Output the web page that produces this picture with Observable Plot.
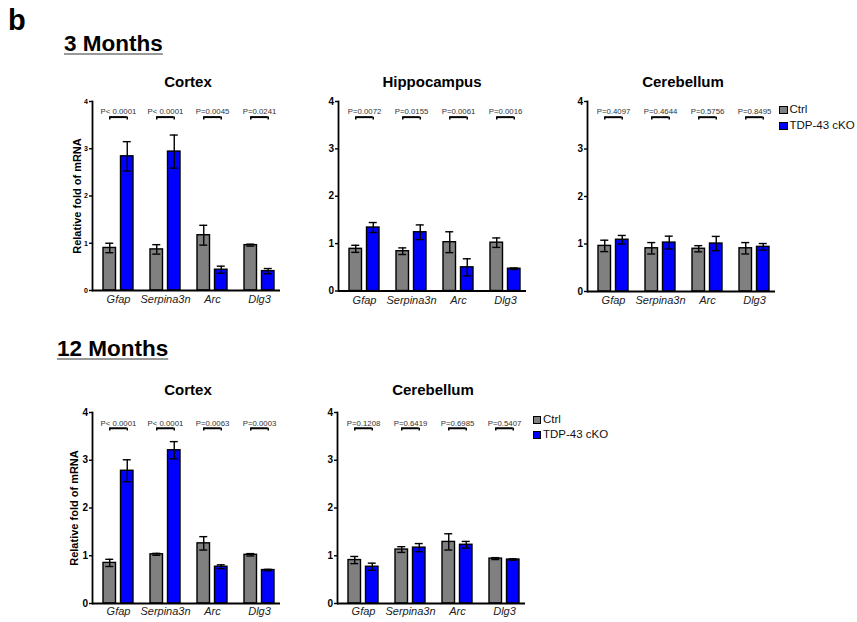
<!DOCTYPE html>
<html><head><meta charset="utf-8">
<script src="https://cdn.jsdelivr.net/npm/d3@7"></script>
<script src="https://cdn.jsdelivr.net/npm/@observablehq/plot@0.6"></script>
<style>
body{margin:0;background:#fff;}
#fig{position:relative;width:857px;height:622px;font-family:"Liberation Sans",Arial,sans-serif;color:#000;overflow:hidden;background:#fff}
.t{position:absolute;white-space:nowrap;line-height:1;font-weight:bold}
.sw{position:absolute;box-sizing:border-box;border:1.2px solid #000}
.lt{position:absolute;white-space:nowrap;line-height:1;font-size:11.5px;color:#111}
svg.pp{position:absolute}
</style></head><body><div id="fig"></div><script>
const genes = ["Gfap","Serpina3n","Arc","Dlg3"];
const groups = ["Ctrl","TDP-43 cKO"];
const groupColors = ["#808080","#0000ff"];

// 3 Months — Cortex
const ctx3Ctrl    = [0.90, 0.87, 1.17, 0.96];
const ctx3CtrlErr = [0.10, 0.10, 0.21, 0.02];
const ctx3Cko     = [2.84, 2.94, 0.44, 0.41];
const ctx3CkoErr  = [0.31, 0.35, 0.075, 0.055];
const ctx3P       = ["P< 0.0001","P< 0.0001","P=0.0045","P=0.0241"];
// 3 Months — Hippocampus
const hip3Ctrl    = [0.89, 0.84, 1.03, 1.02];
const hip3CtrlErr = [0.075, 0.07, 0.22, 0.10];
const hip3Cko     = [1.34, 1.24, 0.50, 0.47];
const hip3CkoErr  = [0.105, 0.155, 0.18, 0.015];
const hip3P       = ["P=0.0072","P=0.0155","P=0.0061","P=0.0016"];
// 3 Months — Cerebellum
const cer3Ctrl    = [0.96, 0.91, 0.90, 0.91];
const cer3CtrlErr = [0.12, 0.12, 0.065, 0.12];
const cer3Cko     = [1.09, 1.03, 1.01, 0.94];
const cer3CkoErr  = [0.09, 0.135, 0.15, 0.07];
const cer3P       = ["P=0.4097","P=0.4644","P=0.5756","P=0.8495"];
// 12 Months — Cortex
const ctx12Ctrl    = [0.85, 1.03, 1.26, 1.02];
const ctx12CtrlErr = [0.075, 0.02, 0.14, 0.025];
const ctx12Cko     = [2.78, 3.21, 0.77, 0.70];
const ctx12CkoErr  = [0.23, 0.18, 0.04, 0.015];
const ctx12P       = ["P< 0.0001","P< 0.0001","P=0.0063","P=0.0003"];
// 12 Months — Cerebellum
const cer12Ctrl    = [0.91, 1.13, 1.29, 0.94];
const cer12CtrlErr = [0.075, 0.06, 0.17, 0.02];
const cer12Cko     = [0.77, 1.17, 1.23, 0.92];
const cer12CkoErr  = [0.075, 0.085, 0.07, 0.015];
const cer12P       = ["P=0.1208","P=0.6419","P=0.6985","P=0.5407"];

const yTicks = [0,1,2,3,4];
const yLabelText = "Relative fold of mRNA";
const pTextLevel = 3.78, bracketLevel = 3.67, bracketFoot = 3.61;

const FONT = '"Liberation Sans", Arial, sans-serif';
const fig = document.getElementById("fig");

function addText(txt, x, baseline, fs, opts = {}) {
  const d = document.createElement("div");
  d.className = "t";
  d.textContent = txt;
  d.style.fontSize = fs + "px";
  d.style.top = (baseline - 0.8465 * fs) + "px";
  d.style.left = x + "px";
  if (opts.center) d.style.transform = "translateX(-50%)";
  if (opts.underline) { d.style.textDecoration = "underline"; d.style.textDecorationColor = "#999"; d.style.textUnderlineOffset = "2px"; d.style.textDecorationThickness = "1.5px"; }
  fig.appendChild(d);
}

function addLegend(x, y, step) {
  groups.forEach((g, i) => {
    const s = document.createElement("div");
    s.className = "sw";
    s.style.left = x + "px"; s.style.top = (y + i * step) + "px";
    s.style.width = "8.5px"; s.style.height = "8.5px";
    s.style.background = groupColors[i];
    fig.appendChild(s);
    const t = document.createElement("div");
    t.className = "lt";
    t.textContent = g;
    t.style.left = (x + 10.5) + "px";
    t.style.top = (y + i * step + 8.5 - 0.8465 * 11.5) + "px";
    fig.appendChild(t);
  });
}

function makePanel(cfg) {
  const ML = 32, MR = 12, MT = 8, MB = 26;
  const frameW = 188;
  const frameH = cfg.y0 - cfg.y4;
  const rows = genes.map((g, i) => ({
    gene: g, ctrl: cfg.ctrl[i], ctrlErr: cfg.ctrlErr[i],
    cko: cfg.cko[i], ckoErr: cfg.ckoErr[i], p: cfg.p[i]
  }));
  const sw = 1.4;
  const marks = [
    Plot.barY(rows, {x: "gene", y: "ctrl", fill: groupColors[0], stroke: "#000", strokeWidth: sw, insetRight: 17.5}),
    Plot.barY(rows, {x: "gene", y: "cko", fill: groupColors[1], stroke: "#000", strokeWidth: sw, insetLeft: 17.5}),
    // error bars ctrl
    Plot.ruleX(rows, {x: "gene", y1: d => d.ctrl - d.ctrlErr, y2: d => d.ctrl + d.ctrlErr, dx: -8.75, strokeWidth: sw}),
    Plot.tickY(rows, {x: "gene", y: d => d.ctrl + d.ctrlErr, insetLeft: 2.25, insetRight: 19.75, strokeWidth: sw}),
    Plot.tickY(rows, {x: "gene", y: d => d.ctrl - d.ctrlErr, insetLeft: 2.25, insetRight: 19.75, strokeWidth: sw}),
    // error bars cKO
    Plot.ruleX(rows, {x: "gene", y1: d => d.cko - d.ckoErr, y2: d => d.cko + d.ckoErr, dx: 8.75, strokeWidth: sw}),
    Plot.tickY(rows, {x: "gene", y: d => d.cko + d.ckoErr, insetLeft: 19.75, insetRight: 2.25, strokeWidth: sw}),
    Plot.tickY(rows, {x: "gene", y: d => d.cko - d.ckoErr, insetLeft: 19.75, insetRight: 2.25, strokeWidth: sw}),
    // significance brackets
    Plot.tickY(rows, {x: "gene", y: bracketLevel, insetLeft: 6.25, insetRight: 6.25, strokeWidth: 2}),
    Plot.ruleX(rows, {x: "gene", y1: bracketFoot, y2: bracketLevel, dx: -8.75, strokeWidth: 1.5}),
    Plot.ruleX(rows, {x: "gene", y1: bracketFoot, y2: bracketLevel, dx: 8.75, strokeWidth: 1.5}),
    Plot.text(rows, {x: "gene", y: pTextLevel, text: "p", fontSize: 7.8, fill: "#333", ariaLabel: "pvalue"}),
    // axes
    Plot.ruleY([0], {strokeWidth: 1.8}),
    Plot.frame({anchor: "left", strokeWidth: 1.8}),
    Plot.axisY({ticks: yTicks, tickFormat: d3.format("d"), tickSize: 3, tickPadding: 1.5, fontSize: cfg.yFont, fontWeight: "bold", label: null, strokeWidth: 1.4}),
    Plot.axisX({tickSize: 0, tickPadding: cfg.xPad, fontSize: 11, fontStyle: "italic", label: null, fill: "#222"})
  ];
  if (cfg.yLabel) marks.push(Plot.text([yLabelText], {frameAnchor: "left", textAnchor: "middle", lineAnchor: "middle", dx: cfg.yLabelDx, rotate: -90, fontSize: 11, fontWeight: "bold"}));
  const svg = Plot.plot({
    width: ML + frameW + MR, height: MT + frameH + MB,
    marginLeft: ML, marginRight: MR, marginTop: MT, marginBottom: MB,
    style: {fontFamily: FONT, background: "transparent", overflow: "visible"},
    x: {domain: genes, paddingInner: 0.3684, paddingOuter: 0.163, align: 0.63},
    y: {domain: [0, 4]},
    marks
  });
  svg.classList.add("pp");
  svg.style.left = (cfg.axisX - ML) + "px";
  svg.style.top = (cfg.y4 - MT) + "px";
  svg.style.maxWidth = "none";
  // italic "P" in p-value labels
  d3.select(svg).selectAll('g[aria-label="pvalue"] text').each(function () {
    const s = this.textContent;
    const sel = d3.select(this);
    sel.text(null);
    sel.append("tspan").attr("font-style", "italic").text(s.slice(0, 1));
    sel.append("tspan").text(s.slice(1));
  });
  fig.appendChild(svg);
  addText(cfg.title, cfg.titleX, cfg.titleBase, 15, {center: true});
}

addText("b", 8, 30.7, 29);
addText("3 Months", 64, 51.7, 22.5, {underline: true});
addText("12 Months", 57, 357, 22.5, {underline: true});

const panels = [
  {title: "Cortex", ctrl: ctx3Ctrl, ctrlErr: ctx3CtrlErr, cko: ctx3Cko, ckoErr: ctx3CkoErr, p: ctx3P,
   axisX: 92, y4: 100.5, y0: 289.5, yFont: 7, xPad: 5, yLabel: true, yLabelDx: -15, titleX: 188, titleBase: 86.7},
  {title: "Hippocampus", ctrl: hip3Ctrl, ctrlErr: hip3CtrlErr, cko: hip3Cko, ckoErr: hip3CkoErr, p: hip3P,
   axisX: 337.5, y4: 100.5, y0: 290, yFont: 10, xPad: 5, yLabel: false, titleX: 432, titleBase: 86.7},
  {title: "Cerebellum", ctrl: cer3Ctrl, ctrlErr: cer3CtrlErr, cko: cer3Cko, ckoErr: cer3CkoErr, p: cer3P,
   axisX: 587, y4: 100.5, y0: 290.5, yFont: 10, xPad: 5, yLabel: false, titleX: 683, titleBase: 87},
  {title: "Cortex", ctrl: ctx12Ctrl, ctrlErr: ctx12CtrlErr, cko: ctx12Cko, ckoErr: ctx12CkoErr, p: ctx12P,
   axisX: 91.5, y4: 412, y0: 603, yFont: 10, xPad: 3.5, yLabel: true, yLabelDx: -18, titleX: 188, titleBase: 395},
  {title: "Cerebellum", ctrl: cer12Ctrl, ctrlErr: cer12CtrlErr, cko: cer12Cko, ckoErr: cer12CkoErr, p: cer12P,
   axisX: 337, y4: 412, y0: 603, yFont: 10, xPad: 3.5, yLabel: false, titleX: 433, titleBase: 395}
];
panels.forEach(makePanel);

addLegend(779, 105.5, 16);
addLegend(532.5, 415.5, 15);
</script></body></html>
